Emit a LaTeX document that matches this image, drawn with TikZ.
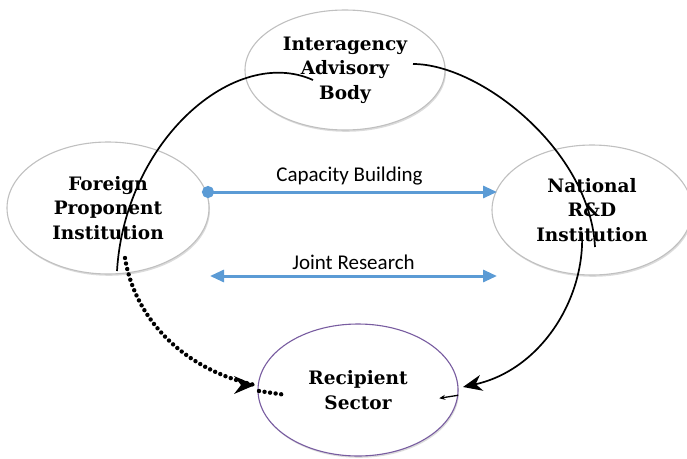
\documentclass[tikz,border=0pt]{standalone}
\usepackage{fontspec}
\newfontfamily\lblfont{Carlito}
\newfontfamily\partyfont{DejaVu Serif}
\usetikzlibrary{shapes.geometric,shadows,arrows.meta}
\definecolor{flowblue}{RGB}{91,155,213}
\definecolor{rimgray}{RGB}{192,192,192}
\definecolor{rimpurple}{RGB}{120,92,160}

\tikzset{
  party/.style={ellipse,draw=rimgray,line width=1.1pt,fill=white,inner sep=0pt,
    minimum width=200pt,minimum height=124pt,align=center,
    font=\partyfont\fontsize{18.5}{24.5}\selectfont\bfseries,
    drop shadow={shadow xshift=1pt,shadow yshift=-1.8pt,fill=black!28}},
  link/.style={line width=1.7pt},
  flow/.style={draw=flowblue,line width=3pt},
  dots/.style={line width=4.4pt,line cap=round,dash pattern=on 0pt off 5.6pt},
  lbl/.style={font=\lblfont\fontsize{21}{24}\selectfont}
}

\begin{document}
\begin{tikzpicture}[x=1pt,y=-1pt]
\useasboundingbox (0,0) rectangle (687,458);

\node[party,minimum height=120pt] (iab) at (345,70) {Interagency\\Advisory\\Body};
\node[party,minimum height=132pt,minimum width=202pt] (fpi) at (108,208) {Foreign\\Proponent\\Institution};
\node[party,minimum height=130pt] (nrd) at (592,210) {National\\R\&D\\Institution};
\node[party,draw=rimpurple,drop shadow={opacity=0},minimum height=132pt] (rs) at (358,390) {Recipient\\Sector};

\coordinate (l1) at (117,271);
\coordinate (l2) at (313,80);
\coordinate (r1) at (413,64);
\coordinate (r2) at (595,247);
\coordinate (r3) at (582,233);
\coordinate (r4) at (463,387);
\coordinate (d1) at (125,258);
\coordinate (d2) at (255,385);
\coordinate (d3) at (259,391);
\coordinate (d4) at (286,395);
\coordinate (cb1) at (202,192);
\coordinate (cb2) at (497,192);
\coordinate (jr1) at (210,276);
\coordinate (jr2) at (497,276);

\draw[link] (l1) .. controls (125,140) and (235,45) .. (l2);
\draw[link] (r1) .. controls (480,64) and (590,150) .. (r2);
\draw[link,-{Stealth[length=19pt,width=16pt,inset=6pt]}] (r3) .. controls (585,300) and (540,370) .. (r4);
\draw[line width=1.3pt,-{Stealth[length=6pt,width=5pt]}] (rs.-3) -- +(-19,3);

\draw[dots] (d1) .. controls (135,320) and (185,370) .. (d2);
\fill (d2) -- ++(-21,-9) -- ++(7,9) -- ++(-7,9) -- cycle;
\draw[dots] (d3) -- (d4);

\draw[flow,{Circle[length=12pt]}-{Triangle[length=14pt,width=12pt]}] (cb1) -- node[lbl,above=2pt,text=black] {Capacity Building} (cb2);
\draw[flow,{Triangle[length=14pt,width=12pt]}-{Triangle[length=14pt,width=12pt]}] (jr1) -- node[lbl,above=2pt,text=black] {Joint Research} (jr2);
\end{tikzpicture}
\end{document}
